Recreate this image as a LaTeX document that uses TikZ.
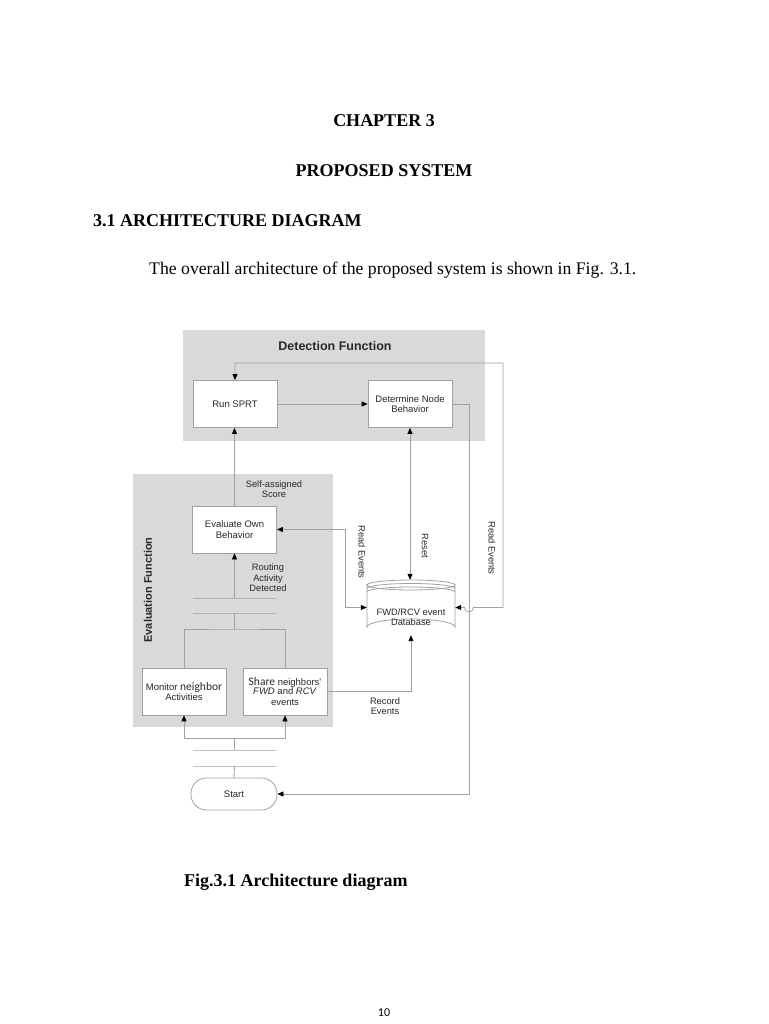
\documentclass[tikz,border=0pt]{standalone}
\usepackage{fontspec}
\setmainfont{Liberation Serif}
\newfontfamily\arialf{Liberation Sans}
\newfontfamily\calibf{Carlito}
\usetikzlibrary{arrows.meta}
\definecolor{regfill}{RGB}{217,217,217}
\definecolor{lnc}{RGB}{160,160,160}
\definecolor{txt}{RGB}{40,40,40}
\begin{document}
\begin{tikzpicture}[x=1pt,y=-1pt,
  >={Triangle[length=6pt,width=5pt,color=black]},
  region/.style={fill=regfill,draw=none,inner sep=0pt,anchor=north west},
  box/.style={draw=lnc,fill=white,line width=0.8pt,minimum width=84pt,minimum height=47pt,inner sep=1pt,align=center,text=txt,font=\arialf\fontsize{9.5}{10.5}\selectfont},
  bar/.style={draw=lnc,line width=0.8pt,minimum width=83pt,minimum height=0pt,inner sep=0pt,outer sep=0pt},
  conn/.style={draw=lnc,line width=0.8pt},
  lbl/.style={align=center,text=txt,inner sep=0pt,font=\arialf\fontsize{9.3}{10.5}\selectfont},
  ptext/.style={anchor=base,inner sep=0pt,text=black},
]
\useasboundingbox (0,0) rectangle (768,1024);
\fill[white] (0,0) rectangle (768,1024);

% page text
\node[ptext,font=\bfseries\fontsize{18}{20}\selectfont] (ch) at (384,127) {CHAPTER 3};
\node[ptext,font=\bfseries\fontsize{18}{20}\selectfont] (ps) at (384,177) {PROPOSED SYSTEM};
\node[ptext,anchor=base west,font=\bfseries\fontsize{18}{20}\selectfont] (sec) at (93,226) {3.1 ARCHITECTURE DIAGRAM};
\node[ptext,anchor=base west,font=\fontsize{17.7}{20}\selectfont] (body) at (149,274) {The overall architecture of the proposed system is shown in Fig. 3.1.};
\node[ptext,anchor=base west,font=\bfseries\fontsize{18}{20}\selectfont] (cap) at (184,886) {Fig.3.1 Architecture diagram};
\node[ptext,font=\calibf\fontsize{12}{14}\selectfont] (pg) at (384,1016) {10};

% regions
\node[region,minimum width=302pt,minimum height=111pt] (detR) at (183,330) {};
\node[region,minimum width=200pt,minimum height=253pt] (evalR) at (133,474) {};
\node[lbl,font=\arialf\bfseries\fontsize{12.5}{14}\selectfont] (detT) at (335,346) {Detection Function};
\node[lbl,rotate=90,font=\arialf\bfseries\fontsize{11}{13}\selectfont] (evalT) at (148,590) {Evaluation Function};

% boxes
\node[box] (sprt) at (235,404) {Run SPRT};
\node[box] (dnb) at (410,404) {Determine Node\\Behavior};
\node[box] (eob) at (234.5,529.5) {Evaluate Own\\Behavior};
\node[box] (mon) at (184,691.5) {Monitor {\calibf\fontsize{11.5}{13}\selectfont neighbor}\\[-1pt]Activities};
\node[box] (share) at (285,691.5) {{\calibf\fontsize{11.5}{13}\selectfont Share} neighbors'\\[-1pt]\textit{FWD} and \textit{RCV}\\events};
\node[box,rounded corners=15.5pt,minimum width=86pt,minimum height=32pt] (start) at (234,794) {Start};

% database
\node[inner sep=0pt,minimum width=88pt,minimum height=55pt] (db) at (411,607.5) {};
\filldraw[draw=lnc,fill=white,line width=0.8pt] (367,585) -- (367,627) arc[start angle=180,end angle=360,x radius=44,y radius=8] -- (455,585) arc[start angle=0,end angle=180,x radius=44,y radius=5] -- cycle;
\draw[lnc,line width=0.8pt] (367,585) arc[start angle=180,end angle=360,x radius=44,y radius=5];
\draw[lnc,line width=0.8pt] (367,588.5) arc[start angle=180,end angle=360,x radius=44,y radius=5];
\draw[lnc,line width=0.8pt] (367,592) arc[start angle=180,end angle=360,x radius=44,y radius=5];
\node[lbl] (dbl) at (411,617) {FWD/RCV event\\Database};

% bars
\node[bar] (b1) at (234.5,598) {};
\node[bar] (b2) at (234.5,613) {};
\node[bar] (b3) at (234.5,750) {};
\node[bar] (b4) at (234.5,766) {};
\coordinate (jt) at (234.5,629);
\coordinate (jb) at (234.5,738);
\coordinate (lc) at (345,0);
\coordinate (rr) at (469,0);
\coordinate (ro) at (503,363);

% connectors
\draw[conn,->] (eob.north) -- (eob.north |- sprt.south);
\draw[conn,->] (sprt.east) -- (dnb.west);
\draw[conn,<->] (dnb.south) -- (dnb.south |- db.north);
\draw[conn,->] (b1.center) -- (eob.south);
\draw[conn] (b2.center) -- (jt);
\draw[conn] (mon.north) |- (jt) -| (share.north);
\draw[conn,->] (jb) -| (mon.south);
\draw[conn,->] (jb) -| (share.south);
\draw[conn] (jb) -- (b3.center);
\draw[conn] (b4.center) -- (start.north);
\draw[conn,->] (share.east) -| (db.south);
\draw[conn,<->] (eob.east) -- (eob.east -| lc) |- (db.west);
\draw[conn,->] (dnb.east) -- (dnb.east -| rr) -- (start.east -| rr) -- (start.east);
\draw[conn,<->] (sprt.north) |- (ro) -- (ro |- db.east) -- ([xshift=4.5pt]rr |- db.east) arc[start angle=0,end angle=180,radius=4.5] -- (db.east);

% labels
\node[lbl] (lself) at (274,489) {Self-assigned\\Score};
\node[lbl] (lrout) at (268,578) {Routing\\Activity\\Detected};
\node[lbl,rotate=-90] (lread1) at (362,552) {Read Events};
\node[lbl,rotate=-90] (lreset) at (425,546) {Reset};
\node[lbl,rotate=-90] (lread2) at (492,548) {Read Events};
\node[lbl] (lrec) at (385,706) {Record\\Events};
\end{tikzpicture}
\end{document}
